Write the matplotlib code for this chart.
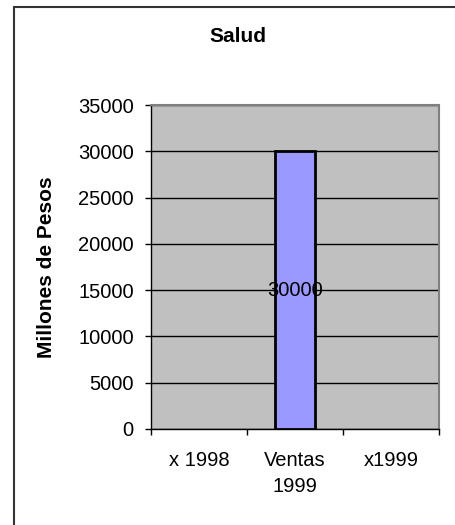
import numpy as np
import matplotlib.pyplot as plt
from matplotlib.patches import Rectangle

categories = ["x 1998", "Ventas\n1999", "x1999"]
values = [np.nan, 30000, np.nan]
title = "Salud"
ylabel = "Millones de Pesos"

plt.rcParams['font.family'] = ['Liberation Sans', 'DejaVu Sans']

fig = plt.figure(figsize=(4.56, 5.25), dpi=100)
ax = fig.add_axes([151/456, 1 - 429/525, 288/456, 324/525])
ax.set_facecolor('#c0c0c0')

x = np.arange(len(categories))
ax.bar(x, values, width=0.41, color='#9999ff', edgecolor='black', linewidth=2, zorder=3)
for xi, v in zip(x, values):
    if not np.isnan(v):
        ax.text(xi, v / 2, f"{v:.0f}", ha='center', va='center', fontsize=14.5, zorder=4)

ax.set_xlim(-0.5, len(categories) - 0.5)
ax.set_ylim(0, 35000)
ax.set_yticks(np.arange(0, 35001, 5000))
ax.yaxis.grid(True, color='black', linewidth=1, zorder=1)
ax.set_axisbelow(True)

ax.set_xticks(np.arange(-0.5, len(categories), 1.0))
ax.set_xticklabels([])
ax.set_xticks(x, minor=True)
ax.set_xticklabels(categories, minor=True, fontsize=14.5, linespacing=1.45)
ax.tick_params(axis='x', which='minor', length=0, pad=16)
ax.tick_params(axis='x', which='major', length=4.5, width=1, direction='out')
ax.tick_params(axis='y', length=4.5, width=1, labelsize=14.5, pad=8)

for side in ['top', 'right']:
    ax.spines[side].set_color('#808080')
    ax.spines[side].set_linewidth(1.5)
for side in ['left', 'bottom']:
    ax.spines[side].set_color('black')
    ax.spines[side].set_linewidth(1)

fig.text(238/456, 1 - 36/525, title, ha='center', va='center', fontsize=15, fontweight='bold')
fig.text(47/456, 1 - 267/525, ylabel, ha='center', va='center', rotation=90, fontsize=15, fontweight='bold')

fig.patches.append(Rectangle((14/456, -0.1), 1.2, 1 - 7/525 + 0.1, transform=fig.transFigure,
                             fill=False, edgecolor='#333333', linewidth=1.5))

plt.savefig('out.png', dpi=100)
